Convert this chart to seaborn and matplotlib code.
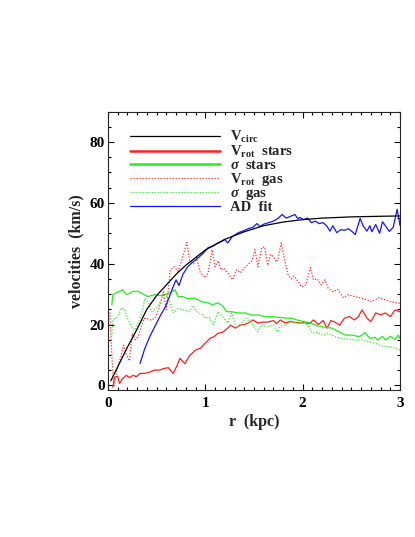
import numpy as np
import pandas as pd
import matplotlib
matplotlib.use("Agg")
import matplotlib.pyplot as plt
from matplotlib.ticker import MultipleLocator
import seaborn as sns

# ── data (r in kpc, velocities in km/s) ──
vcirc_r = [0.03, 0.1, 0.2, 0.3, 0.4, 0.5, 0.6, 0.7, 0.8, 0.9, 1.0, 1.2, 1.4,
           1.6, 1.8, 2.0, 2.2, 2.5, 2.8, 3.0]
vcirc_v = [1.5, 6, 12.5, 18.5, 25, 29.5, 33, 36.5, 39.5, 42, 44.5, 48, 50.5,
           52.5, 53.7, 54.5, 55.0, 55.4, 55.6, 55.7]

stars_r = [0.05, 0.07, 0.10, 0.12, 0.15, 0.19, 0.22, 0.26, 0.29, 0.33, 0.38,
           0.43, 0.48, 0.53, 0.57, 0.62, 0.67, 0.71, 0.74, 0.79, 0.84, 0.90,
           0.95, 1.00, 1.05, 1.09, 1.13, 1.18, 1.23, 1.26, 1.31, 1.36, 1.40,
           1.44, 1.49, 1.54, 1.59, 1.64, 1.70, 1.73, 1.77, 1.82, 1.87, 1.92,
           1.97, 2.02, 2.07, 2.11, 2.16, 2.21, 2.25, 2.29, 2.33, 2.38, 2.43,
           2.48, 2.53, 2.57, 2.61, 2.66, 2.70, 2.75, 2.80, 2.85, 2.90, 2.95, 3.0]
stars_vrot = [-0.6, 2.7, 3, 0.6, 2.2, 3.3, 2.5, 3.3, 2.8, 3.9, 3.9,
              4.4, 5, 5, 5.5, 5.8, 3.9, 6.5, 8.9, 7.1, 9.8, 11.6,
              12.2, 13.9, 15.5, 16, 17.1, 17.5, 18.8, 19.8, 18.8, 19.8, 20,
              20.5, 21.5, 20.5, 20.8, 20.8, 21.3, 20.3, 21.5, 20.5, 21, 20.7,
              20.5, 20.6, 20.3, 21.5, 20, 21.3, 18.8, 21.3, 20.8, 19.8, 22.1,
              22.6, 21.5, 22.5, 24.8, 22.1, 20.9, 23.8, 23.2, 23.8, 22.6, 24.8, 24.2]

sig_stars_r = [0.04, 0.05, 0.09, 0.15, 0.19, 0.26, 0.31, 0.35, 0.41, 0.48, 0.55,
               0.64, 0.69, 0.72, 0.77, 0.81, 0.89, 0.96, 1.03, 1.07, 1.13, 1.18,
               1.22, 1.27, 1.34, 1.41, 1.48, 1.55, 1.61, 1.68, 1.75, 1.82, 1.89,
               1.94, 2.02, 2.09, 2.16, 2.23, 2.30, 2.37, 2.44, 2.51, 2.58, 2.64,
               2.69, 2.74, 2.77, 2.82, 2.85, 2.90, 2.95, 2.98, 3.0]
sig_stars_v = [26.4, 29.8, 30.5, 31.4, 29.8, 30.9, 30.9, 30.2, 29.2, 29.8, 29.5,
               30.4, 31.4, 29.2, 29.2, 28.5, 28.7, 27.5, 27.1, 26.5, 27.1, 26,
               24.2, 24.2, 23.8, 23.8, 23.1, 23.1, 22.6, 22.6, 22.4, 22.1, 22.1,
               21.5, 20.9, 20.4, 19.5, 19.1, 18.8, 17.6, 16.5, 16.5, 16, 17.3,
               15.4, 15.8, 14.9, 16.1, 14.9, 16.1, 15.1, 16.5, 15.4]

gas_r = [0.02, 0.04, 0.06, 0.08, 0.10, 0.13, 0.16, 0.19, 0.22, 0.25, 0.28,
         0.31, 0.34, 0.37, 0.40, 0.44, 0.48, 0.51, 0.54, 0.57, 0.60, 0.64,
         0.68, 0.72, 0.76, 0.81, 0.84, 0.88, 0.91, 0.95, 1.00, 1.03, 1.07,
         1.10, 1.13, 1.16, 1.19, 1.23, 1.28, 1.32, 1.36, 1.40, 1.44, 1.48,
         1.51, 1.54, 1.58, 1.61, 1.64, 1.67, 1.70, 1.73, 1.75, 1.78, 1.81,
         1.85, 1.88, 1.91, 1.94, 1.99, 2.03, 2.08, 2.11, 2.15, 2.19, 2.23,
         2.26, 2.31, 2.36, 2.42, 2.47, 2.52, 2.59, 2.66, 2.71, 2.78, 2.84,
         2.90, 2.97, 3.0]
gas_vrot = [24, 10, 0, 3, 6, 9, 13.2, 10, 8, 17, 15,
            16, 19, 22, 22, 21.5, 22, 24, 27, 30.7, 24.8, 38,
            39, 37.5, 41.3, 47, 41, 40, 42, 37, 35.4, 37, 44.6,
            39, 41, 38, 38.5, 37, 34.7, 38, 37, 38.5, 39.7, 41,
            44.6, 39, 45.3, 45.5, 39.5, 43, 42.3, 40.5, 42, 46.9, 42,
            36.4, 35, 36, 34.7, 32.4, 33, 38.7, 34.7, 35, 33, 34.7,
            32, 30.8, 31.5, 28.8, 29.8, 29.3, 28.8, 28.1, 27.5, 28.8, 28.2,
            27.5, 27.1, 27]

sig_gas_r = [0.04, 0.05, 0.10, 0.14, 0.17, 0.20, 0.24, 0.28, 0.31, 0.35, 0.38,
             0.41, 0.45, 0.50, 0.55, 0.60, 0.63, 0.67, 0.72, 0.77, 0.84, 0.87,
             0.92, 0.97, 1.00, 1.04, 1.08, 1.13, 1.18, 1.23, 1.27, 1.32, 1.37,
             1.42, 1.47, 1.54, 1.57, 1.63, 1.70, 1.74, 1.77, 1.82, 1.88, 1.95,
             2.00, 2.03, 2.06, 2.10, 2.15, 2.20, 2.25, 2.30, 2.33, 2.40, 2.47,
             2.54, 2.61, 2.68, 2.75, 2.81, 2.88, 2.95, 3.0]
sig_gas_v = [16, 21.5, 22.5, 25.5, 24.8, 22.1, 19.3, 18.2, 20.5, 23.8, 28.7,
             27.5, 24.2, 25.5, 28.1, 29.2, 27.5, 23.8, 25.2, 24.8, 24.2, 26.2,
             24, 23.1, 22.1, 22.5, 19.8, 24.2, 22.5, 20.5, 23.8, 18.8, 20.5,
             22.1, 20.5, 17.6, 19.8, 19.3, 19.8, 17.6, 19.5, 19.8, 20.9, 20.5,
             20.7, 20.5, 19.3, 17.1, 17.5, 16.5, 17.2, 16.5, 16, 15.4, 15.2,
             14.9, 14.9, 14.3, 13.8, 12.9, 12.7, 12.2, 11.6]

ad_r = [0.33, 0.38, 0.43, 0.48, 0.54, 0.59, 0.63, 0.67, 0.70, 0.73, 0.77,
        0.82, 0.87, 0.93, 0.98, 1.03, 1.08, 1.13, 1.18, 1.20, 1.23, 1.28,
        1.34, 1.39, 1.44, 1.49, 1.53, 1.56, 1.60, 1.65, 1.70, 1.75, 1.79,
        1.83, 1.87, 1.92, 1.95, 1.97, 2.01, 2.05, 2.09, 2.13, 2.17, 2.21,
        2.25, 2.28, 2.31, 2.35, 2.39, 2.43, 2.47, 2.51, 2.54, 2.59, 2.62,
        2.66, 2.69, 2.71, 2.75, 2.79, 2.82, 2.86, 2.89, 2.93, 2.97, 3.0]
ad_v = [7.2, 12.2, 16, 19.2, 23, 25.8, 29, 32.4, 34.7, 32.8, 36.5,
        39, 40.5, 42, 43.5, 45.3, 45.8, 46.8, 47.5, 48, 46.8, 49,
        50.2, 50.8, 51.5, 52, 53.2, 52.2, 53, 53.5, 54, 55, 56.2,
        55, 55.5, 56.2, 54.8, 55.2, 54.5, 55, 53.5, 54, 53.2, 53.5,
        52.3, 50.7, 52.5, 50.2, 51.2, 51, 51.5, 50.5, 49.6, 54.9, 52.5,
        50.7, 52.5, 50.5, 52.9, 50, 53.8, 52, 50.6, 52, 57.9, 52.5]

labels = [r"V$_{\rm circ}$", r"V$_{\rm rot}$  stars", r"$\sigma$  stars",
          r"V$_{\rm rot}$  gas", r"$\sigma$  gas", "AD  fit"]

# ── style ──
sns.set_style("ticks")
plt.rcParams["font.family"] = ["Liberation Serif", "DejaVu Serif"]
plt.rcParams["font.weight"] = "bold"
plt.rcParams["mathtext.fontset"] = "custom"
plt.rcParams["mathtext.rm"] = "Liberation Serif:bold"
plt.rcParams["mathtext.it"] = "Liberation Serif:italic:bold"
plt.rcParams["mathtext.bf"] = "Liberation Serif:bold"

fig = plt.figure(figsize=(4.15, 5.37), dpi=100)
ax = fig.add_axes([0.260, 0.274, 0.704, 0.518])

dotted = (0, (1, 1.4))
series = [
    (vcirc_r, vcirc_v, "black", "-"),
    (stars_r, stars_vrot, "#ff2020", "-"),
    (sig_stars_r, sig_stars_v, "#22ee22", "-"),
    (gas_r, gas_vrot, "#ff3030", dotted),
    (sig_gas_r, sig_gas_v, "#33ee33", dotted),
    (ad_r, ad_v, "#1515ff", "-"),
]
for (r, v, col, ls), lab in zip(series, labels):
    df = pd.DataFrame({"r": r, "v": v})
    sns.lineplot(data=df, x="r", y="v", ax=ax, color=col, linestyle=ls,
                 linewidth=0.9, label=lab, estimator=None, sort=False)
# model curve sits on top of the data
ax.lines[0].set_zorder(5)

ax.set_xlim(0, 3)
ax.set_ylim(-1.5, 90)
ax.xaxis.set_major_locator(MultipleLocator(1))
ax.xaxis.set_minor_locator(MultipleLocator(0.1))
ax.yaxis.set_major_locator(MultipleLocator(20))
ax.yaxis.set_minor_locator(MultipleLocator(5))
ax.tick_params(which="both", direction="in", top=True, right=True,
               labelsize=11, width=0.8, colors="black")
ax.tick_params(which="major", length=4.5)
ax.tick_params(which="minor", length=2.2)
ax.tick_params(axis="x", pad=5)
ax.tick_params(axis="y", pad=2)
for s in ax.spines.values():
    s.set_linewidth(0.8)

ax.set_xlabel("r  (kpc)", fontsize=11.5, fontweight="bold", labelpad=3)
ax.set_ylabel("velocities  (km/s)", fontsize=11.5, fontweight="bold", labelpad=4)

leg = ax.legend(loc="upper left", bbox_to_anchor=(0.075, 0.937), frameon=False,
                fontsize=10.5, handlelength=6.2, handletextpad=0.7,
                labelspacing=-0.08, borderpad=0, borderaxespad=0)
for i, h in enumerate(leg.get_lines()):
    h.set_linewidth(1.8 if i in (1, 2) else 0.9)

fig.savefig("out.png", dpi=100)
